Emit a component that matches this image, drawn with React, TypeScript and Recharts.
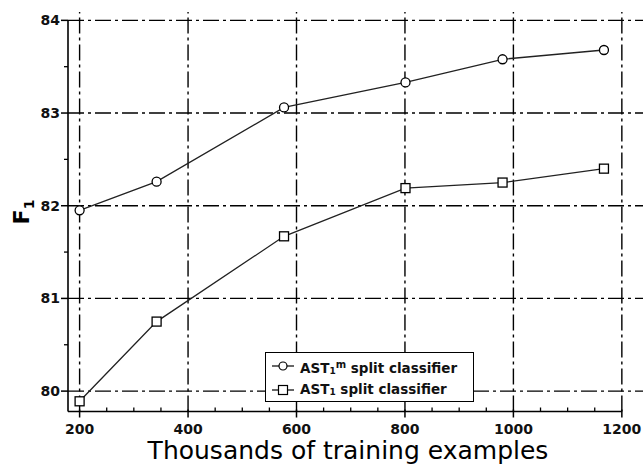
import React from "react";
import { LineChart, Line, XAxis, YAxis, ReferenceLine, Legend } from "recharts";

const trainingThousands = [200, 342, 577, 801, 980, 1167];
const astMSplit = [81.95, 82.26, 83.06, 83.33, 83.58, 83.68];
const ast1Split = [79.89, 80.75, 81.67, 82.19, 82.25, 82.4];
const xMajorTicks = [200, 400, 600, 800, 1000, 1200];
const xAllTicks = [200, 250, 300, 350, 400, 450, 500, 550, 600, 650, 700, 750, 800, 850, 900, 950, 1000, 1050, 1100, 1150, 1200];
const yMajorTicks = [80, 81, 82, 83, 84];
const yAllTicks = [80, 80.5, 81, 81.5, 82, 82.5, 83, 83.5, 84];

const astMData = trainingThousands.map((x, i) => ({ x, y: astMSplit[i] }));
const ast1Data = trainingThousands.map((x, i) => ({ x, y: ast1Split[i] }));

const X_MIN = 178.6;
const X_MAX = 1239;
const Y_MIN = 79.78;
const Y_MAX = 84.09;

const FONT = "'DejaVu Sans', Verdana, sans-serif";
const GRID_DASH = "16 4 3 4";

const XTick = (props: any) => {
  const { x, y, payload } = props;
  const v = payload.value;
  const major = xMajorTicks.includes(v);
  if (major) {
    return (
      <g>
        <line x1={x} x2={x} y1={y - 2} y2={y + 6} stroke="#000" strokeWidth={1.5} />
        <text x={x} y={y + 22} textAnchor="middle" fontFamily={FONT} fontWeight="bold" fontSize={14} fill="#111">
          {v}
        </text>
      </g>
    );
  }
  return <line x1={x} x2={x} y1={y - 4} y2={y} stroke="#000" strokeWidth={1.3} />;
};

const YTick = (props: any) => {
  const { x, y, payload } = props;
  const v = payload.value;
  const major = yMajorTicks.includes(v);
  if (major) {
    return (
      <g>
        <line x1={x - 7} x2={x} y1={y} y2={y} stroke="#000" strokeWidth={1.5} />
        <text x={x - 8} y={y + 5} textAnchor="end" fontFamily={FONT} fontWeight="bold" fontSize={14} fill="#111">
          {v}
        </text>
      </g>
    );
  }
  return <line x1={x - 4} x2={x} y1={y} y2={y} stroke="#000" strokeWidth={1.3} />;
};

const SquareDot = (props: any) => {
  const { cx, cy, index } = props;
  if (cx == null || cy == null) return <g key={index} />;
  return <rect key={index} x={cx - 4.5} y={cy - 4.5} width={9} height={9} fill="#fff" stroke="#000" strokeWidth={1.3} />;
};

const LegendBox = () => (
  <div
    style={{
      width: 209,
      height: 50,
      boxSizing: "border-box",
      border: "1.5px solid #000",
      background: "#fff",
      fontFamily: FONT,
      fontWeight: "bold",
      fontSize: 13.5,
      color: "#111",
      position: "relative",
    }}
  >
    <svg width={30} height={50} style={{ position: "absolute", left: 0, top: 0 }}>
      <line x1={6} x2={28} y1={13} y2={13} stroke="#000" strokeWidth={1.2} />
      <circle cx={17} cy={13} r={4} fill="#fff" stroke="#000" strokeWidth={1.2} />
      <line x1={6} x2={28} y1={37} y2={37} stroke="#000" strokeWidth={1.2} />
      <rect x={12.5} y={32.5} width={9} height={9} fill="#fff" stroke="#000" strokeWidth={1.2} />
    </svg>
    <div style={{ position: "absolute", left: 34, top: 3, whiteSpace: "nowrap", lineHeight: "18px" }}>
      AST<sub style={{ fontSize: 9, verticalAlign: "-1px" }}>1</sub>
      <sup style={{ fontSize: 10, verticalAlign: "5px" }}>m</sup> split classifier
    </div>
    <div style={{ position: "absolute", left: 34, top: 27, whiteSpace: "nowrap", lineHeight: "18px" }}>
      AST<sub style={{ fontSize: 9, verticalAlign: "-1px" }}>1</sub> split classifier
    </div>
  </div>
);

export default function App() {
  return (
    <div style={{ position: "absolute", left: 0, top: 0 }}>
      <LineChart width={643} height={464} margin={{ top: 12, right: 0, bottom: 0, left: 0 }}>
        <XAxis
          dataKey="x"
          type="number"
          domain={[X_MIN, X_MAX]}
          allowDataOverflow
          ticks={xAllTicks}
          interval={0}
          tick={<XTick />}
          tickLine={false}
          tickSize={0}
          tickMargin={0}
          axisLine={false}
          height={52.5}
          label={{
            content: () => (
              <text x={348} y={459} textAnchor="middle" fontFamily={FONT} fontSize={25} fill="#000">
                Thousands of training examples
              </text>
            ),
          }}
        />
        <YAxis
          dataKey="y"
          type="number"
          domain={[Y_MIN, Y_MAX]}
          allowDataOverflow
          ticks={yAllTicks}
          interval={0}
          tick={<YTick />}
          tickLine={false}
          tickSize={0}
          tickMargin={0}
          axisLine={false}
          width={68}
          label={{
            content: () => (
              <text transform="translate(29, 212) rotate(-90)" textAnchor="middle" fontFamily={FONT} fontWeight="bold" fontSize={22} fill="#000">
                F<tspan fontSize={14} dy={5}>1</tspan>
              </text>
            ),
          }}
        />
        {xMajorTicks.map((v) => (
          <ReferenceLine key={"vx" + v} x={v} stroke="#000" strokeWidth={1.4} strokeDasharray={GRID_DASH} />
        ))}
        {yMajorTicks.map((v) => (
          <ReferenceLine key={"hy" + v} y={v} stroke="#000" strokeWidth={1.4} strokeDasharray={GRID_DASH} />
        ))}
        <ReferenceLine
          segment={[{ x: X_MIN, y: Y_MIN }, { x: 1200, y: Y_MIN }]}
          stroke="#000"
          strokeWidth={1.6}
        />
        <ReferenceLine
          segment={[{ x: X_MIN, y: Y_MIN }, { x: X_MIN, y: 84 }]}
          stroke="#000"
          strokeWidth={1.6}
        />
        <Line
          data={astMData}
          dataKey="y"
          type="linear"
          stroke="#222"
          strokeWidth={1.3}
          dot={{ r: 4.5, fill: "#fff", stroke: "#000", strokeWidth: 1.3 }}
          isAnimationActive={false}
          name="astm"
        />
        <Line
          data={ast1Data}
          dataKey="y"
          type="linear"
          stroke="#222"
          strokeWidth={1.3}
          dot={<SquareDot />}
          isAnimationActive={false}
          name="ast1"
        />
        <Legend
          layout="vertical"
          align="center"
          verticalAlign="middle"
          content={() => <LegendBox />}
          wrapperStyle={{ position: "absolute", left: 265, top: 352, width: 209, height: 50 }}
        />
      </LineChart>
    </div>
  );
}
